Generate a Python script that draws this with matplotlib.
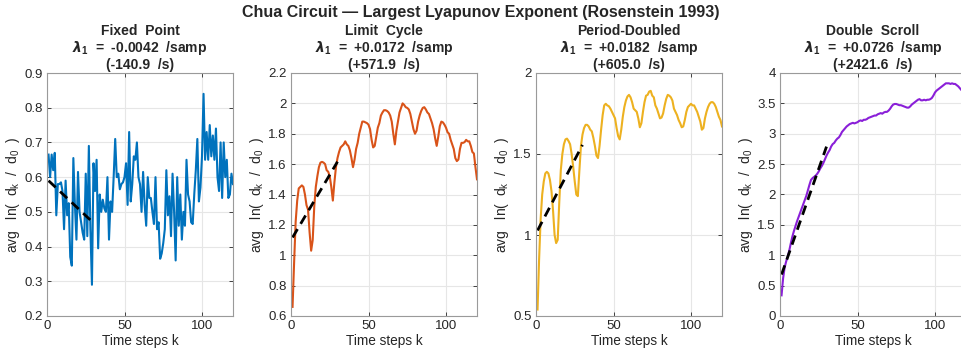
import numpy as np
import matplotlib
matplotlib.use('Agg')
from matplotlib import pyplot as plt

plt.rcParams['font.family'] = ['Liberation Sans', 'DejaVu Sans']
plt.rcParams['mathtext.fontset'] = 'custom'
plt.rcParams['mathtext.rm'] = 'Liberation Sans'
plt.rcParams['mathtext.it'] = 'Liberation Sans:italic'
plt.rcParams['mathtext.bf'] = 'Liberation Sans:bold'

suptitle = 'Chua Circuit \u2014 Largest Lyapunov Exponent (Rosenstein 1993)'

names = ['Fixed  Point', 'Limit  Cycle', 'Period-Doubled', 'Double  Scroll']
lam_samp = ['-0.0042', '+0.0172', '+0.0182', '+0.0726']
lam_sec = ['-140.9', '+571.9', '+605.0', '+2421.6']
colors = ['#0072BD', '#D95319', '#EDB120', '#8A1FD8']

# fitted line on k = 1..30 : y = intercept + slope * k
fit_slope = [-0.0042, 0.0172, 0.0182, 0.0726]
fit_intercept = [0.594, 1.10, 1.01, 0.61]
fit_k = [1, 30]

ylims = [(0.2, 0.9), (0.6, 2.2), (0.5, 2.0), (0.0, 4.0)]
ysteps = [0.1, 0.2, 0.5, 0.5]

fixed_point = [
    0.665, 0.60, 0.665, 0.62, 0.67, 0.49, 0.58, 0.58, 0.585, 0.56,
    0.45, 0.59, 0.49, 0.525, 0.37, 0.345, 0.655, 0.52, 0.42, 0.615,
    0.50, 0.47, 0.44, 0.42, 0.61, 0.43, 0.69, 0.45, 0.29, 0.64,
    0.56, 0.65, 0.395, 0.55, 0.50, 0.535, 0.51, 0.50, 0.60, 0.42,
    0.53, 0.50, 0.60, 0.71, 0.60, 0.61, 0.565, 0.58, 0.585, 0.60,
    0.64, 0.52, 0.73, 0.53, 0.58, 0.66, 0.65, 0.70, 0.60, 0.58,
    0.50, 0.615, 0.52, 0.46, 0.60, 0.54, 0.54, 0.50, 0.465, 0.60,
    0.45, 0.47, 0.365, 0.38, 0.41, 0.45, 0.62, 0.49, 0.545, 0.43,
    0.61, 0.50, 0.36, 0.60, 0.46, 0.55, 0.42, 0.50, 0.46, 0.65,
    0.55, 0.53, 0.47, 0.465, 0.55, 0.62, 0.71, 0.53, 0.57, 0.66,
    0.84, 0.65, 0.73, 0.65, 0.75, 0.66, 0.72, 0.65, 0.74, 0.60,
    0.56, 0.70, 0.54, 0.70, 0.60, 0.65, 0.54, 0.55, 0.61, 0.58]

limit_cycle = [
    0.66, 0.95, 1.22, 1.36, 1.44, 1.45, 1.46, 1.45, 1.40, 1.33,
    1.30, 1.15, 1.03, 1.10, 1.32, 1.45, 1.52, 1.58, 1.61, 1.615,
    1.61, 1.60, 1.56, 1.55, 1.52, 1.45, 1.36, 1.48, 1.58, 1.64,
    1.68, 1.71, 1.72, 1.73, 1.75, 1.73, 1.72, 1.69, 1.64, 1.58,
    1.63, 1.70, 1.74, 1.80, 1.84, 1.88, 1.88, 1.875, 1.87, 1.86,
    1.83, 1.76, 1.71, 1.72, 1.78, 1.84, 1.87, 1.92, 1.94, 1.955,
    1.955, 1.95, 1.94, 1.92, 1.88, 1.80, 1.73, 1.82, 1.88, 1.94,
    1.97, 2.00, 1.99, 1.975, 1.97, 1.96, 1.93, 1.88, 1.83, 1.80,
    1.82, 1.88, 1.92, 1.95, 1.97, 1.975, 1.96, 1.94, 1.93, 1.90,
    1.87, 1.83, 1.77, 1.72, 1.78, 1.85, 1.88, 1.875, 1.86, 1.84,
    1.81, 1.80, 1.76, 1.73, 1.70, 1.64, 1.62, 1.63, 1.70, 1.74,
    1.74, 1.745, 1.76, 1.75, 1.75, 1.72, 1.68, 1.67, 1.58, 1.50]

period_doubled = [
    0.54, 0.85, 1.10, 1.25, 1.33, 1.38, 1.39, 1.38, 1.34, 1.27,
    1.15, 1.00, 0.95, 0.97, 1.20, 1.40, 1.50, 1.56, 1.59, 1.595,
    1.58, 1.56, 1.50, 1.42, 1.33, 1.25, 1.24, 1.40, 1.55, 1.62,
    1.66, 1.68, 1.68, 1.67, 1.65, 1.64, 1.60, 1.55, 1.49, 1.475,
    1.55, 1.65, 1.74, 1.80, 1.81, 1.80, 1.795, 1.78, 1.76, 1.74,
    1.72, 1.66, 1.61, 1.59, 1.65, 1.73, 1.79, 1.83, 1.855, 1.865,
    1.85, 1.82, 1.78, 1.77, 1.76, 1.72, 1.665, 1.69, 1.76, 1.82,
    1.86, 1.865, 1.885, 1.89, 1.86, 1.85, 1.80, 1.78, 1.75, 1.72,
    1.725, 1.75, 1.80, 1.84, 1.865, 1.86, 1.85, 1.83, 1.78, 1.76,
    1.74, 1.71, 1.69, 1.665, 1.67, 1.71, 1.76, 1.79, 1.80, 1.81,
    1.80, 1.80, 1.78, 1.76, 1.73, 1.70, 1.65, 1.66, 1.72, 1.76,
    1.79, 1.81, 1.82, 1.82, 1.81, 1.79, 1.76, 1.73, 1.71, 1.67]

double_scroll = [
    0.34, 0.62, 0.80, 0.90, 0.98, 1.08, 1.20, 1.31, 1.40, 1.48,
    1.56, 1.63, 1.70, 1.77, 1.84, 1.91, 1.98, 2.07, 2.16, 2.24,
    2.27, 2.29, 2.31, 2.34, 2.38, 2.43, 2.47, 2.52, 2.58, 2.64,
    2.69, 2.73, 2.79, 2.83, 2.85, 2.89, 2.92, 2.94, 2.98, 3.03,
    3.06, 3.09, 3.12, 3.14, 3.16, 3.17, 3.18, 3.17, 3.18, 3.19,
    3.21, 3.22, 3.21, 3.23, 3.23, 3.24, 3.26, 3.27, 3.28, 3.29,
    3.30, 3.30, 3.32, 3.33, 3.34, 3.33, 3.35, 3.36, 3.36, 3.38,
    3.41, 3.45, 3.48, 3.49, 3.49, 3.48, 3.47, 3.47, 3.46, 3.45,
    3.44, 3.43, 3.43, 3.45, 3.48, 3.50, 3.52, 3.54, 3.56, 3.57,
    3.55, 3.55, 3.56, 3.55, 3.56, 3.56, 3.57, 3.59, 3.63, 3.68,
    3.71, 3.73, 3.75, 3.77, 3.79, 3.81, 3.83, 3.83, 3.83, 3.82,
    3.83, 3.82, 3.82, 3.80, 3.78, 3.75, 3.72, 3.70, 3.68, 3.66]

series = [fixed_point, limit_cycle, period_doubled, double_scroll]


def fmt(v):
    s = '%.1f' % v
    if s.endswith('.0'):
        s = s[:-2]
    return s


def main():
    fig = plt.figure(figsize=(9.61, 3.49), dpi=100)
    lefts = [47, 291, 536, 780]
    for i in range(4):
        ax = fig.add_axes([lefts[i] / 961, 33 / 349, 186 / 961, 243 / 349])
        y = np.array(series[i])
        k = np.arange(1, len(y) + 1)
        ax.plot(k, y, color=colors[i], lw=1.5)
        kf = np.array(fit_k)
        ax.plot(kf, fit_intercept[i] + fit_slope[i] * kf, color='k',
                lw=2.0, ls=(0, (3.5, 2.2)))
        ax.set_xlim(0, 120)
        ax.set_ylim(*ylims[i])
        ax.set_xticks([0, 50, 100])
        yt = np.arange(ylims[i][0], ylims[i][1] + 1e-9, ysteps[i])
        ax.set_yticks(yt)
        ax.set_yticklabels([fmt(v) for v in yt])
        ax.grid(True, color='#e6e6e6', lw=0.8)
        ax.set_axisbelow(True)
        ax.tick_params(direction='in', length=3, width=0.6, top=True,
                       right=True, labelsize=9.5, colors='#262626',
                       pad=3)
        for sp in ax.spines.values():
            sp.set_color('#9a9a9a')
            sp.set_linewidth(0.8)
        ax.set_xlabel('Time steps k', fontsize=9.8, color='#262626',
                      labelpad=1)
        ax.set_ylabel('avg   ln(  d$_\\mathregular{k}$  /  d$_\\mathregular{0}$  )',
                      fontsize=10, color='#262626', labelpad=2)
        title = (names[i] + '\n'
                 + '$\\mathbfit{\\lambda}_\\mathbf{1}$  =  ' + lam_samp[i] + '  /samp\n'
                 + '(' + lam_sec[i] + '  /s)')
        ax.set_title(title, fontsize=10, fontweight='bold', color='#262626',
                     linespacing=1.08, pad=3)

    fig.suptitle(suptitle, fontsize=11.5, fontweight='bold', color='#262626',
                 y=0.985)
    fig.savefig('out.png', dpi=100)
    plt.close(fig)


main()
